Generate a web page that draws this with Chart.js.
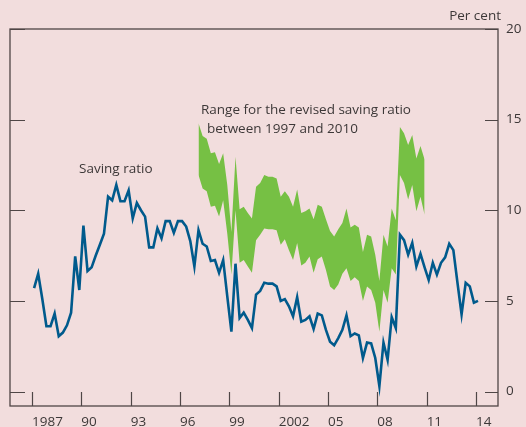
<!DOCTYPE html>
<html>
<head>
<meta charset="utf-8">
<script src="https://cdn.jsdelivr.net/npm/chart.js@4.4.1/dist/chart.umd.min.js"></script>
<style>
  html, body { margin: 0; padding: 0; background: #f2dddd; }
  canvas { display: block; }
</style>
</head>
<body>
<canvas id="chartCanvas" width="526" height="427"></canvas>
<script>
// Quarterly data, first point 1987 Q1
const startYear = 1987;
const savingRatio = [
  5.7, 6.5, 5.1, 3.6, 3.6, 4.3, 3.05, 3.25, 3.65, 4.35, 7.45, 5.6,
  9.15, 6.65, 6.85, 7.5, 8.1, 8.7, 10.75, 10.55, 11.4, 10.5, 10.5, 11.1,
  9.55, 10.4, 10.0, 9.65, 7.95, 7.95, 9.0, 8.45, 9.4, 9.4, 8.75, 9.4,
  9.4, 9.1, 8.3, 6.9, 8.9, 8.15, 8.0, 7.2, 7.25, 6.55, 7.25, 5.25,
  3.3, 7.05, 4.05, 4.35, 3.95, 3.5, 5.35, 5.55, 6.0, 5.95, 5.95, 5.8,
  5.0, 5.1, 4.7, 4.15, 5.2, 3.85, 3.95, 4.15, 3.45, 4.3, 4.2, 3.4,
  2.75, 2.55, 2.95, 3.4, 4.2, 3.05, 3.2, 3.1, 1.85, 2.7, 2.65, 1.85,
  0.3, 2.7, 1.75, 4.1, 3.5, 8.65, 8.35, 7.55, 8.2, 6.9, 7.6, 6.85,
  6.15, 7.1, 6.45, 7.1, 7.4, 8.15, 7.8, 6.0, 4.25, 6.0, 5.8, 4.9, 5.0
];

// Range for the revised saving ratio, 1997 Q1 to 2010 Q4
const rangeStart = 1997;
const rangeHigh = [
  14.8, 14.1, 13.95, 13.15, 13.2, 12.55, 13.15, 11.4, 8.8, 12.95, 10.05, 10.2,
  9.85, 9.55, 11.3, 11.5, 11.95, 11.85, 11.85, 11.75, 10.75, 11.05, 10.75, 10.2,
  11.15, 9.85, 9.95, 10.1, 9.5, 10.3, 10.2, 9.5, 8.85, 8.55, 8.95, 9.3,
  10.1, 9.05, 9.2, 9.05, 7.7, 8.65, 8.55, 7.55, 6.1, 8.65, 8.0, 10.1,
  9.45, 14.6, 14.25, 13.6, 14.15, 12.85, 13.55, 12.8
];
const rangeLow = [
  11.95, 11.2, 11.05, 10.2, 10.25, 9.65, 10.55, 8.7, 6.45, 10.0, 7.1, 7.25,
  6.9, 6.55, 8.35, 8.65, 9.0, 8.95, 8.95, 8.9, 8.1, 8.4, 7.8, 7.25,
  8.2, 6.95, 7.1, 7.45, 6.55, 7.3, 7.45, 6.7, 5.8, 5.6, 5.9, 6.5,
  6.8, 6.1, 6.3, 6.1, 5.0, 5.8, 5.6, 4.9, 3.3, 5.6, 4.9, 6.8,
  6.45, 11.95, 11.5, 10.6, 11.4, 9.95, 10.75, 9.75
];

const xTicks = [1987, 1990, 1993, 1996, 1999, 2002, 2005, 2008, 2011, 2014];
const xTickLabels = ['1987', '90', '93', '96', '99', '2002', '05', '08', '11', '14'];
const yTicks = [0, 5, 10, 15, 20];

const ink = '#3d3838';
const frame = '#4f4646';
const fontSize = 13.5;

// quarter index -> x value (plotted a little into the quarter)
function toPoints(values, firstYear) {
    return values.map((v, i) => ({ x: firstYear + i / 4 + 0.125, y: v }));
}

const decor = {
    id: 'decor',
    beforeDraw(c) {
        const ctx = c.ctx;
        ctx.save();
        ctx.fillStyle = '#f2dddd';
        ctx.fillRect(0, 0, c.width, c.height);
        ctx.restore();
    },
    afterDatasetsDraw(c) {
        const ctx = c.ctx;
        const a = c.chartArea;
        const xs = c.scales.x, ys = c.scales.y;
        ctx.save();
        ctx.strokeStyle = frame;
        ctx.lineWidth = 1.3;
        ctx.strokeRect(a.left, a.top, a.right - a.left, a.bottom - a.top);
        ctx.lineWidth = 1.2;
        ctx.beginPath();
        yTicks.forEach(t => {
            const y = Math.round(ys.getPixelForValue(t)) + 0.5;
            ctx.moveTo(a.left, y); ctx.lineTo(a.left + 15, y);
            ctx.moveTo(a.right, y); ctx.lineTo(a.right - 13, y);
        });
        xTicks.forEach(t => {
            const x = Math.round(xs.getPixelForValue(t)) + 0.5;
            ctx.moveTo(x, a.bottom); ctx.lineTo(x, a.bottom - 14);
        });
        ctx.stroke();

        ctx.fillStyle = ink;
        ctx.font = fontSize + 'px "Open Sans"';
        ctx.textBaseline = 'middle';
        ctx.textAlign = 'right';
        ctx.fillText('Per cent', 501, 16);
        ctx.textAlign = 'left';
        ctx.fillText('Saving ratio', 79, 169);
        ctx.fillText('Range for the revised saving ratio', 201, 110);
        ctx.fillText('between 1997 and 2010', 207, 129);
        ctx.restore();
    }
};

const ctx = document.getElementById('chartCanvas').getContext('2d');
const chart = new Chart(ctx, {
    type: 'line',
    data: {
        datasets: [
            {
                label: 'Saving ratio',
                data: toPoints(savingRatio, startYear),
                borderColor: '#005a8c',
                borderWidth: 2.6,
                pointRadius: 0,
                tension: 0,
                fill: false
            },
            {
                label: 'Range low',
                data: toPoints(rangeLow, rangeStart),
                borderWidth: 0,
                borderColor: 'rgba(0,0,0,0)',
                pointRadius: 0,
                fill: false
            },
            {
                label: 'Range high',
                data: toPoints(rangeHigh, rangeStart),
                borderWidth: 0,
                borderColor: 'rgba(0,0,0,0)',
                backgroundColor: '#76c044',
                pointRadius: 0,
                fill: '-1'
            }
        ]
    },
    options: {
        responsive: false,
        animation: false,
        devicePixelRatio: 1,
        layout: { padding: { left: 10, top: 29, right: 0, bottom: 0 } },
        plugins: { legend: { display: false }, tooltip: { enabled: false } },
        scales: {
            x: {
                type: 'linear',
                min: 1985.66,
                max: 2015.34,
                grid: { display: false, drawTicks: false },
                border: { display: false },
                afterBuildTicks: s => { s.ticks = xTicks.map(v => ({ value: v })); },
                afterFit: s => { s.height = 21; },
                ticks: {
                    align: 'start',
                    padding: 8,
                    maxRotation: 0,
                    autoSkip: false,
                    color: ink,
                    font: { family: 'Open Sans', size: fontSize },
                    callback: v => xTickLabels[xTicks.indexOf(v)]
                }
            },
            y: {
                position: 'right',
                min: -0.8,
                max: 20,
                grid: { display: false, drawTicks: false },
                border: { display: false },
                afterBuildTicks: s => { s.ticks = yTicks.map(v => ({ value: v })); },
                afterFit: s => { s.width = 28; },
                ticks: {
                    padding: 8,
                    color: ink,
                    font: { family: 'Open Sans', size: fontSize }
                }
            }
        }
    },
    plugins: [decor]
});
</script>
</body>
</html>
